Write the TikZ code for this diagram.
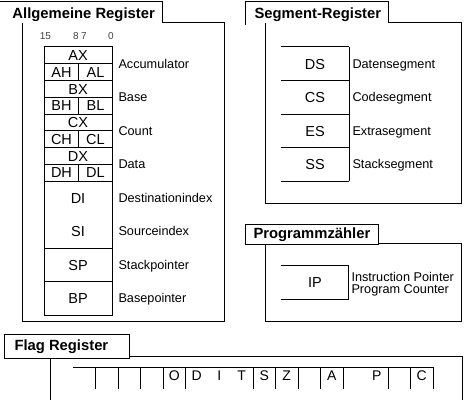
\documentclass[tikz,border=0pt]{standalone}
\usepackage{fontspec}
\setmainfont{Liberation Sans}
\begin{document}
\begin{tikzpicture}[x=1pt,y=-1pt,line width=1pt,
  tabfill/.style={fill=white,draw=none},
  tabtitle/.style={font=\fontsize{14.8}{16}\selectfont\bfseries,anchor=base west,inner sep=0pt},
  reglabel/.style={font=\fontsize{14.5}{16}\selectfont,anchor=base,inner sep=0pt},
  desc/.style={font=\fontsize{12.7}{14}\selectfont,anchor=base west,inner sep=0pt},
  bitnum/.style={font=\fontsize{10}{11}\selectfont,anchor=base,inner sep=0pt,text=black!75},
  flagtxt/.style={font=\fontsize{14}{16}\selectfont,anchor=base,inner sep=0pt}]
\useasboundingbox (0,0) rectangle (471,412);

% ---------- Allgemeine Register ----------
\draw (22,23) rectangle (224,321);
\fill[white] (-2,2) rectangle (162,23);
\draw (-2,2) -- (162,2) -- (162,23);
\node[tabtitle] (tAR) at (12,18.5) {Allgemeine Register};

\node[bitnum] (b15) at (45.5,40) {15};
\node[bitnum] (b8) at (76,40) {8};
\node[bitnum] (b7) at (84,40) {7};
\node[bitnum] (b0) at (111,40) {0};

\draw (44,47) rectangle (112,315);
\foreach \y in {63.75,80.5,97.25,114,130.75,147.5,164.25,181,248,281.5}
  \draw (44,\y) -- (112,\y);
\foreach \y in {63.75,97.25,130.75,164.25}
  \draw (78,\y) -- (78,{\y+16.75});

\foreach \n/\t/\yc in {ax/AX/55.375,bx/BX/88.875,cx/CX/122.375,dx/DX/155.875}
  \node[reglabel] (\n) at (78,{\yc+5.3}) {\t};
\foreach \n/\h/\l/\yc in {a/AH/AL/72.125,b/BH/BL/105.625,c/CH/CL/139.125,d/DH/DL/172.625}{
  \node[reglabel] (\n h) at (61.5,{\yc+5.3}) {\h};
  \node[reglabel] (\n l) at (95.5,{\yc+5.3}) {\l};
}
\foreach \n/\t/\yc in {di/DI/197.75,si/SI/231.25,sp/SP/264.75,bp/BP/298.25}
  \node[reglabel] (\n) at (78,{\yc+5.3}) {\t};

\foreach \n/\t/\yc in {dacc/Accumulator/63.75,dbase/Base/97.25,dcount/Count/130.75,ddata/Data/164.25,ddi/Destinationindex/197.75,dsi/Sourceindex/231.25,dsp/Stackpointer/264.75,dbp/Basepointer/298.25}
  \node[desc] (\n) at (118,{\yc+4.6}) {\t};

% ---------- Segment-Register ----------
\draw (265,23) rectangle (461,203);
\fill[white] (245,2) rectangle (388,23);
\draw (245,25) -- (245,2) -- (388,2) -- (388,23);
\node[tabtitle] (tSR) at (254,18.5) {Segment-Register};

\foreach \y in {47,80.5,114,147.5,181}
  \draw (281,\y) -- (349,\y);
\draw (349,47) -- (349,181);
\foreach \n/\t/\d/\yc in {ds/DS/Datensegment/63.75,cs/CS/Codesegment/97.25,es/ES/Extrasegment/130.75,ss/SS/Stacksegment/164.25}{
  \node[reglabel] (\n) at (315,{\yc+5.3}) {\t};
  \node[desc] (d\n) at (352,{\yc+4.6}) {\d};
}

% ---------- Programmzaehler ----------
\draw (265,243) rectangle (461,321);
\filldraw[fill=white] (245,224) rectangle (378,244);
\node[tabtitle] (tPZ) at (253,238.5) {Programmzähler};

\draw (281,265) -- (348,265) -- (348,299) -- (281,299);
\node[reglabel] (ip) at (315,{282+5.3}) {IP};
\node[desc] (dip1) at (351,281.7) {Instruction Pointer};
\node[desc] (dip2) at (351,293.5) {Program Counter};

% ---------- Flag Register ----------
\draw (50,400) -- (50,356) -- (462,356) -- (462,400);
\filldraw[fill=white] (4,334) rectangle (129,358);
\node[tabtitle] (tFR) at (14,350.5) {Flag Register};

\draw (73,367) -- (433,367);
\foreach \k in {1,2,3,4,5,8,9,10,11,12,14,15,16}
  \draw ({73+22.5*\k},367) -- ({73+22.5*\k},389);
\foreach \i/\t in {4/O,5/D,6/I,7/T,8/S,9/Z,11/A,13/P,15/C}
  \node[flagtxt] (f\t) at ({73+22.5*(\i+0.5)},380.5) {\t};

\end{tikzpicture}
\end{document}
